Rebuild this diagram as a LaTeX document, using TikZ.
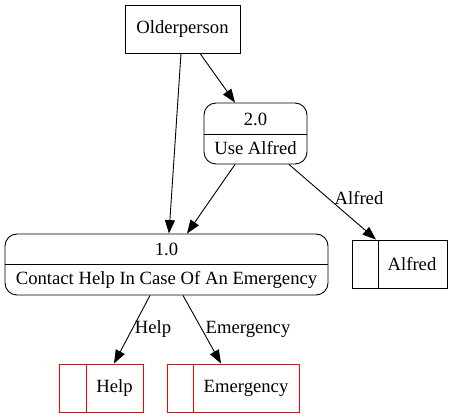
\documentclass[tikz,border=0pt]{standalone}
\usepackage{fontspec}
\setmainfont{Liberation Serif}
\usetikzlibrary{arrows.meta}
\begin{document}
\begin{tikzpicture}[x=1pt,y=-1pt,
  every node/.style={font=\fontsize{18.67}{22}\selectfont, inner sep=0pt},
  entity/.style={draw, line width=0.9pt, minimum width=115pt, minimum height=48pt},
  proc/.style={draw, line width=0.9pt, rounded corners=12pt},
  store/.style={draw, line width=0.9pt, minimum height=48pt},
  flow/.style={line width=0.9pt, -{Triangle[length=13.5pt,width=10pt]}},
  divider/.style={line width=0.9pt}
]
\useasboundingbox (0,0) rectangle (453,419);
% entity
\node[entity] (old) at (182.5,29) {Olderperson};
% process 2.0
\node[proc, minimum width=103pt, minimum height=61pt] (p2) at (255.5,133.5) {};
\draw[divider] (p2.west |- 0,134) coordinate (p2l) -- (p2.east |- 0,134) coordinate (p2r);
\node (p2id) at (255.5,119) {2.0};
\node (p2t) at (255.5,148.5) {Use Alfred};
% process 1.0
\node[proc, minimum width=323pt, minimum height=61pt] (p1) at (166.5,264.5) {};
\draw[divider] (p1.west |- 0,264) coordinate (p1l) -- (p1.east |- 0,264) coordinate (p1r);
\node (p1id) at (166.5,249) {1.0};
\node (p1t) at (166.5,279.5) {Contact Help In Case Of An Emergency};
% stores
\node[store, minimum width=95pt] (alf) at (399.5,264) {};
\draw[divider] (378,0 |- alf.north) -- (378,0 |- alf.south);
\node (alft) at (412,264) {Alfred};
\node[store, draw=red, minimum width=84pt] (help) at (101,388) {};
\draw[divider, red] (86,0 |- help.north) -- (86,0 |- help.south);
\node (helpt) at (114.5,388) {Help};
\node[store, draw=red, minimum width=132pt] (emg) at (233,388) {};
\draw[divider, red] (193,0 |- emg.north) -- (193,0 |- emg.south);
\node (emgt) at (246,388) {Emergency};
% flows
\draw[flow] ([xshift=-1.5pt]old.south) -- ([xshift=2.5pt]p1.north);
\draw[flow] ([xshift=17.5pt]old.south) -- ([xshift=-20.5pt]p2.north);
\draw[flow] ([xshift=-20.5pt]p2.south) -- ([xshift=20.5pt]p1.north);
\draw[flow] ([xshift=33.5pt]p2.south) -- ([xshift=-23.5pt]alf.north);
\draw[flow] ([xshift=-16.5pt]p1.south) -- ([xshift=13pt]help.north);
\draw[flow] ([xshift=16.5pt]p1.south) -- ([xshift=-12pt]emg.north);
% labels
\node (la) at (359,198) {Alfred};
\node (lh) at (153,329) {Help};
\node (le) at (248,329) {Emergency};
\end{tikzpicture}
\end{document}
